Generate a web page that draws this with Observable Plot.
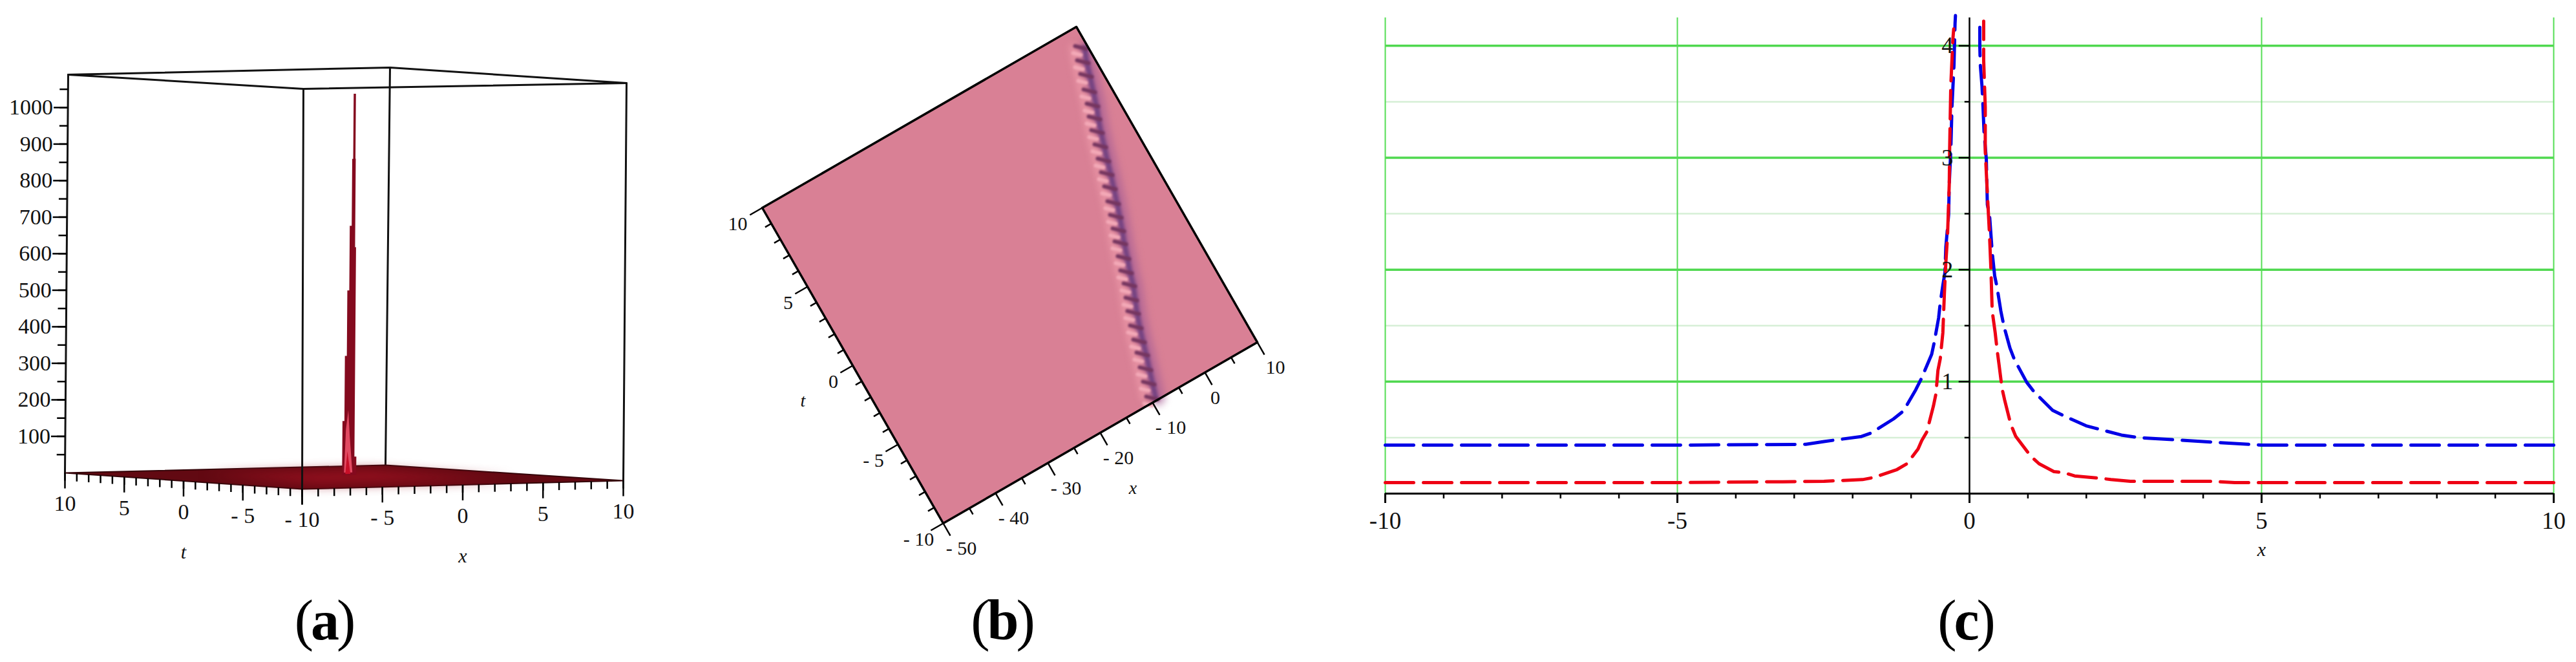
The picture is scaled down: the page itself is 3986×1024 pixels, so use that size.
<!DOCTYPE html>
<html><head><meta charset="utf-8">
<script src="https://cdn.jsdelivr.net/npm/d3@7"></script>
<script src="https://cdn.jsdelivr.net/npm/@observablehq/plot@0.6"></script>
<style>
html,body{margin:0;padding:0;background:#fff;width:3986px;height:1024px;overflow:hidden}
.panel{position:absolute;top:0}
.panel svg{display:block;background:transparent}
.cap{position:absolute;font-family:"Liberation Serif",serif;font-size:88px;line-height:88px;letter-spacing:-4px;transform:translate(-50%,-50%);color:#000;white-space:nowrap}
</style></head><body>
<div id="a" class="panel" style="left:0"></div>
<div id="b" class="panel" style="left:1040px"></div>
<div id="c" class="panel" style="left:2100px"></div>
<div class="cap" style="left:501px;top:960px">(<b>a</b>)</div>
<div class="cap" style="left:1550px;top:960px">(<b>b</b>)</div>
<div class="cap" style="left:3041px;top:960px">(<b>c</b>)</div>
<script>
const serif = "Liberation Serif";

/* ---------- panel (a): 3D surface, axes x,t in [-10,10], z in [0,1090] ---------- */
const aTicksMinor = d3.range(-10, 11);
const aTicksMajor = [-10, -5, 0, 5, 10];
const aZMinor = d3.range(50, 1051, 50);
const aZMajor = [100, 200, 300, 400, 500, 600, 700, 800, 900, 1000];
const aZTop = 1090;
const aTopEdges = [[-10, 10], [-10, -10], [10, -10], [10, 10], [-10, 10]];
const aVerticals = [[-10, 10], [10, 10], [10, -10]];
const aFront = [[-10, -10]];
const spikeX = [-.12, -.12, 0, 0, .12, .12, .24, .24, .36, .36, .42, .42, .56, .56, .58, .58, .64, .64, .76, .76];
const spikeZ = [5, 153, 153, 331, 331, 510, 510, 687, 687, 870, 870, 1048, 1048, 870, 870, 628, 628, 55, 55, 5];
const glowX = [0, .1, .24, .34, .52];
const glowZ = [12, 130, 183, 110, 12];
const coreX = [.08, .2, .4];
const coreZ = [8, 70, 8];

// perspective box of the Maple plot: the four floor and four lid corners
const aFloor = {ll:[100,731], lf:[467,756], rf:[964,743], rb:[596,719]};
const aLid   = {ll:[105,115], lf:[469,137], rf:[969,128], rb:[603,104]};
function aProj(x, t, z) {
  const s = (x + 10) / 20, r = (10 - t) / 20, k = z / aZTop;
  const bi = (c, i) => (1-s)*(1-r)*c.ll[i] + (1-s)*r*c.lf[i] + s*r*c.rf[i] + s*(1-r)*c.rb[i];
  return [bi(aFloor,0)*(1-k) + bi(aLid,0)*k, bi(aFloor,1)*(1-k) + bi(aLid,1)*k];
}
const ax = d => aProj(d[0], d[1], d[2] ?? 0)[0];
const ay = d => aProj(d[0], d[1], d[2] ?? 0)[1];
const floorPts = aTopEdges.map(([x, t]) => [x, t, 0]);
const lidPts = aTopEdges.map(([x, t]) => [x, t, aZTop]);
const floorInner = [[-5, 5], [-6, -6], [6, -6], [6, 6], [-5, 5]].map(([x, t]) => [x, t, 0]);
const vertical = ([x, t]) => [[x, t, 0], [x, t, aZTop]];
const spikePts = spikeX.map((x, i) => [x, 0, spikeZ[i]]);
const glowPts = glowX.map((x, i) => [x, 0, glowZ[i]]);
const corePts = coreX.map((x, i) => [x, 0, coreZ[i]]);
const tTick = (t, len) => ({x1: ax([-10, t]), y1: ay([-10, t]), x2: ax([-10, t]), y2: ay([-10, t]) + len});
const xTick = (x, len) => ({x1: ax([x, -10]), y1: ay([x, -10]), x2: ax([x, -10]), y2: ay([x, -10]) + len});
const zTick = (z, len) => { const p = aProj(-10, 10, z); return {x1: p[0], y1: p[1], x2: p[0] - len, y2: p[1]}; };
const lnk = {x1: "x1", y1: "y1", x2: "x2", y2: "y2", stroke: "#000", strokeWidth: 2.5};

document.getElementById("a").append(Plot.plot({
  width: 1040, height: 900, margin: 0, axis: null,
  x: {domain: [0, 1040], range: [0, 1040]}, y: {domain: [0, 900], range: [0, 900]},
  marks: [
    ...aVerticals.map(v => Plot.line(vertical(v), {x: ax, y: ay, stroke: "#111", strokeWidth: 3})),
    Plot.line(floorPts, {x: ax, y: ay, fill: "#620912", stroke: "#35050a", strokeWidth: 2}),
    Plot.line(floorInner, {x: ax, y: ay, fill: "#96101f", imageFilter: "blur(9px)"}),
    Plot.line(lidPts, {x: ax, y: ay, stroke: "#111", strokeWidth: 3}),
    ...aFront.map(v => Plot.line(vertical(v), {x: ax, y: ay, stroke: "#111", strokeWidth: 3})),
    Plot.line(spikePts, {x: ax, y: ay, fill: "#840a1e"}),
    Plot.line(glowPts, {x: ax, y: ay, fill: "#e24a62"}),
    Plot.line(corePts, {x: ax, y: ay, fill: "#c80f28"}),
    Plot.link(aTicksMinor.map(t => tTick(t, 12)), lnk),
    Plot.link(aTicksMajor.map(t => tTick(t, 24)), lnk),
    Plot.link(aTicksMinor.map(x => xTick(x, 12)), lnk),
    Plot.link(aTicksMajor.map(x => xTick(x, 24)), lnk),
    Plot.link(aZMinor.map(z => zTick(z, 13)), lnk),
    Plot.link(aZMajor.map(z => zTick(z, 22)), lnk),
    Plot.text(aTicksMajor, {x: t => ax([-10, t]), y: t => ay([-10, t]) + 48, text: t => String(t).replace("-", "- "), fontFamily: serif, fontSize: 34, fill: "#111"}),
    Plot.text(aTicksMajor.slice(1), {x: v => ax([v, -10]), y: v => ay([v, -10]) + 48, text: v => String(v).replace("-", "- "), fontFamily: serif, fontSize: 34, fill: "#111"}),
    Plot.text(aZMajor, {x: z => aProj(-10, 10, z)[0] - 23, y: z => aProj(-10, 10, z)[1], text: String, textAnchor: "end", fontFamily: serif, fontSize: 34, fill: "#111"}),
    Plot.text([0], {x: t => ax([-10, t]), y: t => ay([-10, t]) + 110, text: () => "t", fontFamily: serif, fontStyle: "italic", fontSize: 30, fill: "#111"}),
    Plot.text([0], {x: v => ax([v, -10]), y: v => ay([v, -10]) + 110, text: () => "x", fontFamily: serif, fontStyle: "italic", fontSize: 30, fill: "#111"})
  ]
}));

/* ---------- panel (b): top view, x in [-50,10], t in [-10,10] ---------- */
const bXCorners = [-50, 10, 10, -50, -50];
const bTCorners = [-10, -10, 10, 10, -10];
const bOutX = [10, 15, 15, 10];
const bOutT = [10, 10, -10, -10];
const bXMajor = [-50, -40, -30, -20, -10, 0, 10];
const bXMinor = [-45, -35, -25, -15, -5, 5];
const bTMajor = [-10, -5, 0, 5, 10];
const bTMinor = [-9, -8, -7, -6, -4, -3, -2, -1, 1, 2, 3, 4, 6, 7, 8, 9];
const beadX = [8.94, 8.05, 7.39, 6.58, 5.87, 5.09, 4.34, 3.63, 2.92, 2.27, 1.56, .8, .06, -.69, -1.48, -2.24, -3.04, -3.64, -4.53, -5.37, -6.17, -6.88, -7.48, -8.24, -8.95, -9.71];
const beadT = [8.89, 8.16, 7.42, 6.59, 5.83, 5.16, 4.44, 3.67, 2.91, 2.17, 1.41, .61, -.11, -.83, -1.5, -2.29, -3.04, -3.75, -4.48, -5.17, -5.93, -6.69, -7.4, -8.19, -8.96, -9.76];
const bO = [1459, 809], bEx = [8.1, -4.667], bEt = [-14, -24.4];
const bpx = (x, t) => bO[0] + (x + 50) * bEx[0] + (t + 10) * bEt[0];
const bpy = (x, t) => bO[1] + (x + 50) * bEx[1] + (t + 10) * bEt[1];
const square = bXCorners.map((x, i) => [x, bTCorners[i]]);
const outside = bOutX.map((x, i) => [x, bOutT[i]]);
const beads = beadX.map((x, i) => [x, beadT[i]]);
const bLine = {x: d => bpx(d[0], d[1]), y: d => bpy(d[0], d[1])};
const beadDash = (half) => ({x1: d => bpx(d[0], d[1]) - half, y1: d => bpy(d[0], d[1]) - half*.25, x2: d => bpx(d[0], d[1]) + half, y2: d => bpy(d[0], d[1]) + half*.25});
const xOut = (v, t, len) => ({x1: bpx(v, t), y1: bpy(v, t), x2: bpx(v, t) + len*.5, y2: bpy(v, t) + len*.87});
const tOut = (x, v, len) => ({x1: bpx(x, v), y1: bpy(x, v), x2: bpx(x, v) - len*.87, y2: bpy(x, v) + len*.5});

document.getElementById("b").append(Plot.plot({
  width: 1000, height: 900, margin: 0, axis: null,
  x: {domain: [1040, 2040], range: [0, 1000]}, y: {domain: [0, 900], range: [0, 900]},
  marks: [
    Plot.line(square, {...bLine, fill: "#d98095"}),
    Plot.line(beads, {...bLine, stroke: "#a85f96", strokeWidth: 22, dx: 9, imageFilter: "blur(6px)", strokeOpacity: .7}),
    Plot.line(beads, {...bLine, stroke: "#ec98a8", strokeWidth: 12, dx: -12, imageFilter: "blur(5px)", strokeOpacity: .7}),
    Plot.line(beads, {...bLine, stroke: "#704080", strokeWidth: 8, dx: 6, imageFilter: "blur(2.5px)"}),
    Plot.link(beads, {...beadDash(6), stroke: "#f3a9b7", strokeWidth: 6, strokeLinecap: "round", dx: -6, dy: 10, imageFilter: "blur(1.8px)"}),
    Plot.link(beads, {...beadDash(9), stroke: "#75355f", strokeWidth: 6, strokeLinecap: "round", imageFilter: "blur(1.6px)"}),
    Plot.line(outside, {...bLine, fill: "#fff"}),
    Plot.line(square, {...bLine, stroke: "#000", strokeWidth: 3.5}),
    Plot.link(bXMajor.map(v => xOut(v, -10, 22)), lnk),
    Plot.link(bXMinor.map(v => xOut(v, -10, 11)), lnk),
    Plot.link(bTMajor.map(v => tOut(-50, v, 22)), lnk),
    Plot.link(bTMinor.map(v => tOut(-50, v, 11)), lnk),
    Plot.text(bXMajor, {x: v => bpx(v, -10) + (v === 0 ? 16 : 28), y: v => bpy(v, -10) + 39, text: v => String(v).replace("-", "- "), fontFamily: serif, fontSize: 30, fill: "#111"}),
    Plot.text(bTMajor, {x: v => bpx(-50, v) - (v > -1 && v < 6 ? 30 : 38), y: v => bpy(-50, v) + 25, text: v => String(v).replace("-", "- "), fontFamily: serif, fontSize: 30, fill: "#111"}),
    Plot.text([0], {x: v => bpx(-50, v) - 77, y: v => bpy(-50, v) + 55, text: () => "t", fontFamily: serif, fontStyle: "italic", fontSize: 28, fill: "#111"}),
    Plot.text([-25], {x: v => bpx(v, -10) + 91, y: v => bpy(v, -10) + 62, text: () => "x", fontFamily: serif, fontStyle: "italic", fontSize: 28, fill: "#111"})
  ]
}));

/* ---------- panel (c): 2D curves ---------- */
const cXMajor = [-10, -5, 0, 5, 10];
const cXMinor = d3.range(-10, 11);
const cGridMajor = [1, 2, 3, 4];
const cGridMinor = [.5, 1.5, 2.5, 3.5];
const cVGrid = [-10, -5, 5, 10];
const blueLeftX = [-10, -5, -2.8, -2.49, -1.85, -1.68, -1.3, -1.13, -.92, -.83, -.647, -.604, -.528, -.5, -.456, -.42, -.405, -.357, -.346, -.32, -.3, -.265, -.247, -.24];
const blueLeftY = [.433, .433, .44, .465, .51, .542, .667, .738, .927, 1.02, 1.244, 1.35, 1.57, 1.706, 1.86, 1.975, 2.2, 2.49, 2.77, 3.06, 3.45, 3.83, 4.2, 4.27];
const blueRightX = [10, 5, 4.68, 2.9, 2.6, 2.185, 1.995, 1.593, 1.424, 1.107, .98, .77, .693, .59, .537, .473, .431, .39, .343, .306, .288, .25, .232, .214, .185, .177, .177];
const blueRightY = [.433, .433, .443, .5, .523, .58, .606, .7, .744, .908, .994, 1.196, 1.3, 1.494, 1.63, 1.84, 1.946, 2.15, 2.49, 2.58, 2.99, 3.22, 3.45, 3.64, 3.83, 3.99, 4.22];
const redLeftX = [-10, -5, -3.2, -2.49, -1.83, -1.64, -1.24, -1.07, -.88, -.816, -.73, -.617, -.575, -.54, -.5, -.456, -.43, -.406, -.376, -.346, -.34, -.32, -.284, -.27];
const redLeftY = [.098, .098, .106, .11, .125, .144, .215, .267, .398, .475, .552, .783, .888, 1.1, 1.206, 1.437, 1.78, 2.05, 2.3, 2.77, 3.06, 3.64, 4.06, 4.15];
const redRightX = [10, 4.54, 4.13, 2.755, 2.42, 2.227, 1.8, 1.615, 1.445, 1.19, 1.044, .79, .706, .6, .558, .507, .473, .44, .389, .368, .343, .306, .27, .27, .243, .243];
const redRightY = [.098, .098, .11, .11, .125, .138, .158, .187, .196, .267, .337, .513, .62, .84, .937, 1.148, 1.283, 1.437, 1.63, 1.99, 2.31, 2.68, 3.06, 3.45, 3.87, 4.22];
const zip = (xs, ys) => xs.map((x, i) => ({x, y: ys[i]}));
const dash = "44 15";
const curve = (xs, ys, stroke) => Plot.line(zip(xs, ys), {x: "x", y: "y", stroke, strokeWidth: 5, strokeDasharray: dash, curve: "linear"});

document.getElementById("c").append(Plot.plot({
  width: 1886, height: 900, marginLeft: 43, marginRight: 35, marginTop: 27, marginBottom: 137,
  x: {domain: [-10, 10]}, y: {domain: [0, 4.25], axis: null},
  marks: [
    Plot.ruleY(cGridMinor, {stroke: "#d6efd6", strokeWidth: 2.5}),
    Plot.ruleY(cGridMajor, {stroke: "#4fd84f", strokeWidth: 3.5}),
    Plot.ruleX(cVGrid, {stroke: "#55dd55", strokeWidth: 2}),
    curve(blueLeftX, blueLeftY, "#0000e6"),
    curve(blueRightX, blueRightY, "#0000e6"),
    curve(redLeftX, redLeftY, "#ee0014"),
    curve(redRightX, redRightY, "#ee0014"),
    Plot.ruleX([0], {stroke: "#000", strokeWidth: 2.5}),
    Plot.ruleY(cGridMajor, {x1: -.18, x2: 0, stroke: "#000", strokeWidth: 2.5}),
    Plot.ruleY(cGridMinor, {x1: -.08, x2: 0, stroke: "#000", strokeWidth: 2.5}),
    Plot.text(cGridMajor, {x: () => -.38, y: d => d, text: String, fontFamily: serif, fontSize: 36, fill: "#111"}),
    Plot.axisX({ticks: cXMinor, tickSize: 8, tickFormat: () => "", strokeWidth: 2.5, label: null}),
    Plot.axisX({ticks: cXMajor, tickSize: 15, tickPadding: 13, tickFormat: d => String(d), fontSize: 37, fontFamily: serif, fill: "#111", strokeWidth: 3, label: null}),
    Plot.ruleY([0], {stroke: "#000", strokeWidth: 3}),
    Plot.text([5], {x: d => d, y: () => -.5, text: () => "x", fontFamily: serif, fontStyle: "italic", fontSize: 30, fill: "#111"})
  ]
}));
</script>
</body></html>
